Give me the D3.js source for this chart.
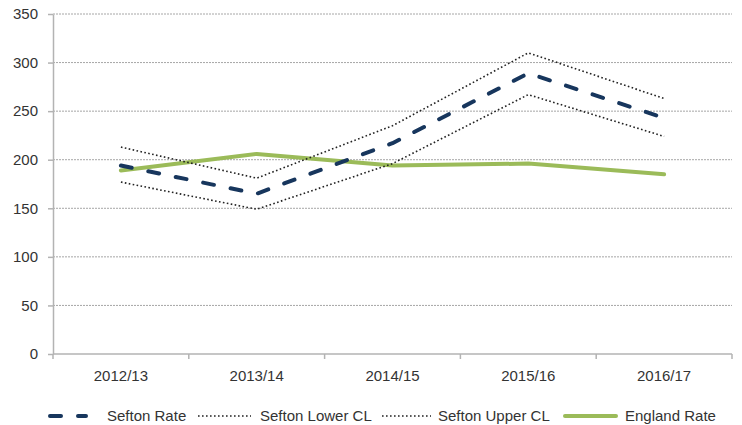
<!DOCTYPE html>
<meta charset="utf-8">
<style>
  body { margin: 0; background: #fff; }
  svg text { font-family: "Liberation Sans", Arial, sans-serif; font-size: 15px; fill: #333; }
  .grid line { stroke: #a6a6a6; stroke-dasharray: 2,1; }
  .axis path, .axis line { stroke: #b3b3b3; stroke-width: 1.5; }
</style>
<body>
<svg width="742" height="425"></svg>
<script src="https://d3js.org/d3.v7.min.js"></script>
<script>
  var years = ["2012/13", "2013/14", "2014/15", "2015/16", "2016/17"];
  var seftonRate = [194, 165, 217, 289, 243];
  var seftonLower = [177, 149, 196, 267, 224];
  var seftonUpper = [213, 181, 235, 310, 263];
  var englandRate = [189, 206, 194, 196, 185];
  var yTicks = [0, 50, 100, 150, 200, 250, 300, 350];

  var svg = d3.select("svg");
  var x = d3.scaleBand().domain(years).range([53, 732]);
  var y = d3.scaleLinear().domain([0, 350]).range([354, 14]);

  // horizontal gridlines
  svg.append("g").attr("class", "grid")
    .selectAll("line").data(yTicks.slice(1)).enter().append("line")
    .attr("x1", 53).attr("x2", 732)
    .attr("y1", function (d) { return y(d); })
    .attr("y2", function (d) { return y(d); });

  // y axis
  var ya = svg.append("g").attr("class", "axis")
    .attr("transform", "translate(53,0)")
    .call(d3.axisLeft(y).tickValues(yTicks).tickSize(5).tickSizeOuter(0).tickPadding(10));
  ya.selectAll("text").style("font-size", "15px");

  // x axis, ticks at band boundaries
  var xa = svg.append("g").attr("class", "axis")
    .attr("transform", "translate(0," + y(0) + ")");
  xa.append("line").attr("x1", 53).attr("x2", 732);
  xa.selectAll(".tk").data(years.concat(["end"])).enter().append("line")
    .attr("class", "tk")
    .attr("x1", function (d, i) { return 53 + i * x.bandwidth(); })
    .attr("x2", function (d, i) { return 53 + i * x.bandwidth(); })
    .attr("y1", 0).attr("y2", 5);
  xa.selectAll("text").data(years).enter().append("text")
    .attr("x", function (d) { return x(d) + x.bandwidth() / 2; })
    .attr("y", 27)
    .attr("text-anchor", "middle")
    .text(function (d) { return d; });

  var line = d3.line()
    .x(function (d, i) { return x(years[i]) + x.bandwidth() / 2; })
    .y(function (d) { return y(d); });

  var series = [
    { name: "Sefton Rate", values: seftonRate, color: "#17365d", width: 4, dash: "11,17", cap: "round" },
    { name: "Sefton Lower CL", values: seftonLower, color: "#222", width: 1.6, dash: "1.6,2.4", cap: "butt" },
    { name: "Sefton Upper CL", values: seftonUpper, color: "#222", width: 1.6, dash: "1.6,2.4", cap: "butt" },
    { name: "England Rate", values: englandRate, color: "#9bbb59", width: 4, dash: null, cap: "round" }
  ];

  // draw England first so it sits underneath like the reference
  [3, 1, 2, 0].forEach(function (k) {
    var s = series[k];
    svg.append("path")
      .datum(s.values)
      .attr("d", line)
      .attr("fill", "none")
      .attr("stroke", s.color)
      .attr("stroke-width", s.width)
      .attr("stroke-dasharray", s.dash)
      .attr("stroke-linecap", s.cap)
      .attr("stroke-linejoin", "round");
  });

  // legend
  var legendPos = [
    { x1: 48, x2: 88, tx: 107 },
    { x1: 198, x2: 251, tx: 260 },
    { x1: 382, x2: 431, tx: 438 },
    { x1: 563, x2: 618, tx: 625 }
  ];
  var lg = svg.append("g");
  series.forEach(function (s, i) {
    var p = legendPos[i];
    lg.append("line")
      .attr("x1", p.x1 + (s.cap == "round" ? 2 : 0))
      .attr("x2", p.x2 - (s.cap == "round" ? 2 : 0))
      .attr("y1", 416).attr("y2", 416)
      .attr("stroke", s.color)
      .attr("stroke-width", s.width)
      .attr("stroke-dasharray", i == 0 ? "11,17" : s.dash)
      .attr("stroke-linecap", s.cap);
    lg.append("text")
      .attr("x", p.tx).attr("y", 421)
      .text(s.name);
  });
</script>
</body>
